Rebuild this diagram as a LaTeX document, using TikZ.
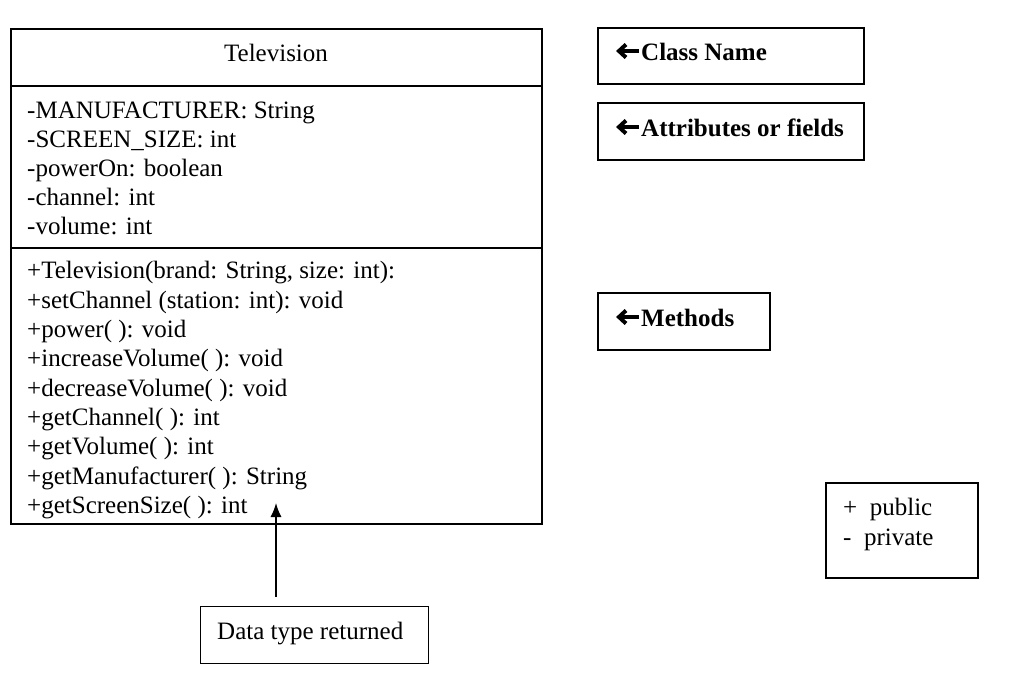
\documentclass[tikz,border=0pt]{standalone}
\usepackage{fontspec}
\setmainfont{Liberation Serif}
\usetikzlibrary{arrows.meta}
\begin{document}
\begin{tikzpicture}[x=1pt,y=-1pt,
  box/.style={draw=black,line width=1.3pt,fill=none},
  txt/.style={anchor=base west,inner sep=0pt,font=\fontsize{25}{29}\selectfont},
  btxt/.style={anchor=base west,inner sep=0pt,font=\fontsize{25}{29}\selectfont\bfseries},
  arr/.style={-{Latex[length=14pt,width=11pt]},line width=1.3pt},
  glyph/.style={line width=4pt,line join=miter,line cap=butt}]
\useasboundingbox (0,0) rectangle (1011,691);
% main class box
\draw[box] (11,29) rectangle (542,524);
\draw[box] (11,86) -- (542,86);
\draw[box] (11,248) -- (542,248);
\node[inner sep=0pt,anchor=base,font=\fontsize{25}{29}\selectfont] (title) at (276,61) {Television};
\node[txt] (a1) at (27,118) {-MANUFACTURER: String};
\node[txt] (a2) at (27,147) {-SCREEN\_SIZE: int};
\node[txt] (a3) at (27,176) {-powerOn: boolean};
\node[txt] (a4) at (27,205) {-channel: int};
\node[txt] (a5) at (27,234) {-volume: int};
\node[txt] (m1) at (27,278) {+Television(brand: String, size: int):};
\node[txt] (m2) at (27,308) {+setChannel (station: int): void};
\node[txt] (m3) at (27,337) {+power( ): void};
\node[txt] (m4) at (27,366) {+increaseVolume( ): void};
\node[txt] (m5) at (27,396) {+decreaseVolume( ): void};
\node[txt] (m6) at (27,425) {+getChannel( ): int};
\node[txt] (m7) at (27,454) {+getVolume( ): int};
\node[txt] (m8) at (27,484) {+getManufacturer( ): String};
\node[txt] (m9) at (27,513) {+getScreenSize( ): int};
% right labels
\draw[box] (598,28) rectangle (864,84);
\node[btxt] (cn) at (641,60) {Class Name};
\draw[glyph] (639,51) -- (621,51);
\draw[glyph] (626,44.5) -- (619,51) -- (626,57.5);
\draw[box] (598,103) rectangle (864,160);
\node[btxt] (af) at (641,136) {Attributes or fields};
\draw[glyph] (639,127) -- (621,127);
\draw[glyph] (626,120.5) -- (619,127) -- (626,133.5);
\draw[box] (598,293) rectangle (770,350);
\node[btxt] (me) at (641,326) {Methods};
\draw[glyph] (639,317) -- (621,317);
\draw[glyph] (626,310.5) -- (619,317) -- (626,323.5);
% legend
\draw[box] (826,483) rectangle (978,578);
\node[txt] (pub) at (843,515) {+\ \ public};
\node[txt] (pri) at (843,545) {-\ \ private};
% data type box
\node[box,minimum width=228pt,minimum height=57pt,inner sep=0pt,anchor=north west] (data) at (200,606) {};
\node[txt] (dt) at (217,639) {Data type returned};
\coordinate (tip) at (276,503);
\draw[arr] (data.north -| tip) ++(0,-9) -- (tip);
\end{tikzpicture}
\end{document}
